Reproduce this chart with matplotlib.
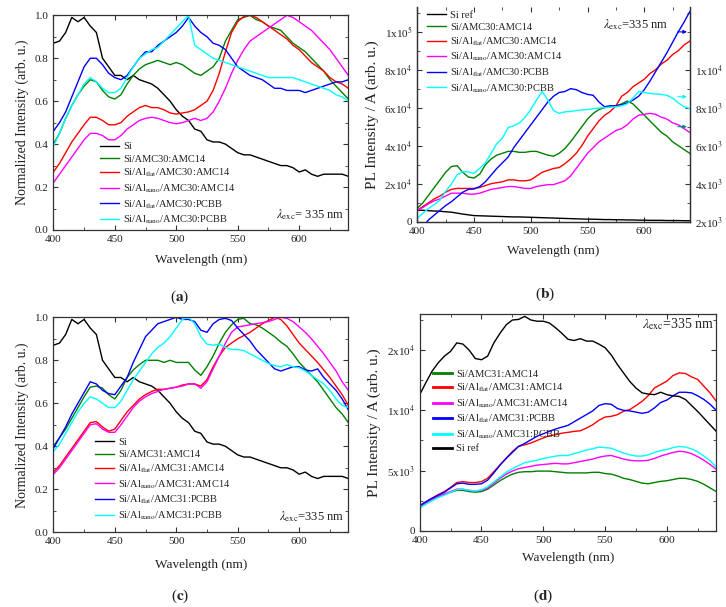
import matplotlib
matplotlib.use("Agg")
import matplotlib.pyplot as plt
from matplotlib.ticker import MultipleLocator

plt.rcParams["font.family"] = "Liberation Serif"
plt.rcParams["mathtext.fontset"] = "stix"
plt.rcParams["axes.linewidth"] = 0.9

# wavelength grid shared by all spectra (nm)
WL = list(range(400, 645, 5))

# (a) normalized, AMC30 blends
SI_NORM = [0.87, 0.88, 0.92, 0.99, 0.97, 0.99, 0.95, 0.92, 0.80, 0.76,
           0.72, 0.72, 0.70, 0.72, 0.70, 0.69, 0.68, 0.66, 0.63, 0.60,
           0.56, 0.53, 0.51, 0.47, 0.46, 0.42, 0.41, 0.41, 0.40, 0.38,
           0.36, 0.35, 0.35, 0.34, 0.33, 0.32, 0.31, 0.30, 0.30, 0.29,
           0.27, 0.28, 0.26, 0.25, 0.26, 0.26, 0.26, 0.26, 0.25]
A_AMC14 = [0.40, 0.45, 0.52, 0.58, 0.63, 0.67, 0.70, 0.69, 0.65, 0.62,
           0.61, 0.63, 0.68, 0.72, 0.75, 0.77, 0.78, 0.79, 0.78, 0.77,
           0.78, 0.77, 0.75, 0.73, 0.72, 0.74, 0.76, 0.80, 0.88, 0.93,
           0.98, 0.99, 1.00, 0.98, 0.97, 0.95, 0.94, 0.93, 0.90, 0.87,
           0.85, 0.83, 0.80, 0.77, 0.74, 0.70, 0.67, 0.64, 0.61]
A_FLAT_AMC14 = [0.27, 0.31, 0.36, 0.41, 0.45, 0.49, 0.525, 0.525, 0.51, 0.49,
                0.49, 0.50, 0.53, 0.55, 0.57, 0.58, 0.57, 0.57, 0.56, 0.545,
                0.54, 0.545, 0.55, 0.56, 0.58, 0.60, 0.65, 0.73, 0.83, 0.92,
                0.97, 0.995, 1.0, 0.99, 0.97, 0.95, 0.93, 0.91, 0.89, 0.86,
                0.84, 0.81, 0.78, 0.76, 0.74, 0.71, 0.69, 0.68, 0.66]
A_NANO_AMC14 = [0.22, 0.26, 0.30, 0.34, 0.38, 0.42, 0.45, 0.45, 0.44, 0.42,
                0.42, 0.44, 0.47, 0.49, 0.51, 0.52, 0.525, 0.52, 0.51, 0.50,
                0.495, 0.50, 0.51, 0.52, 0.51, 0.52, 0.55, 0.60, 0.66, 0.73,
                0.79, 0.84, 0.88, 0.90, 0.92, 0.94, 0.96, 0.98, 1.0, 0.99,
                0.97, 0.95, 0.93, 0.90, 0.87, 0.84, 0.80, 0.76, 0.72]
A_FLAT_PCBB = [0.46, 0.50, 0.55, 0.62, 0.69, 0.76, 0.80, 0.80, 0.77, 0.73,
               0.71, 0.70, 0.72, 0.76, 0.80, 0.83, 0.83, 0.86, 0.88, 0.90,
               0.92, 0.95, 0.99, 0.95, 0.92, 0.90, 0.87, 0.86, 0.84, 0.80,
               0.76, 0.74, 0.72, 0.71, 0.70, 0.68, 0.66, 0.66, 0.65, 0.65,
               0.65, 0.64, 0.65, 0.66, 0.67, 0.68, 0.69, 0.69, 0.70]
A_NANO_PCBB = [0.39, 0.45, 0.52, 0.58, 0.63, 0.68, 0.71, 0.69, 0.66, 0.64,
               0.64, 0.66, 0.71, 0.76, 0.80, 0.82, 0.84, 0.85, 0.88, 0.91,
               0.94, 0.97, 1.0, 0.86, 0.84, 0.82, 0.80, 0.79, 0.78, 0.77,
               0.76, 0.75, 0.74, 0.73, 0.72, 0.71, 0.71, 0.71, 0.71, 0.71,
               0.70, 0.69, 0.68, 0.67, 0.66, 0.65, 0.63, 0.62, 0.60]

# (b) PL intensity, AMC30 blends (PCBB samples on the right axis)
B_SIREF = [6000, 6000, 5800, 5600, 5500, 5200, 5000, 4500, 4000, 3600,
           3200, 3100, 3000, 2900, 2800, 2700, 2600, 2500, 2500, 2400,
           2300, 2200, 2100, 2000, 1900, 1800, 1700, 1600, 1500, 1400,
           1300, 1300, 1200, 1100, 1100, 1000, 1000, 900, 900, 800,
           800, 700, 700, 700, 600, 600, 600, 500, 500]
B_AMC14 = [7000, 10000, 14000, 18000, 22000, 26000, 29000, 29500, 26000, 23500,
           23000, 25000, 30000, 33000, 35000, 36000, 37000, 37000, 36500, 36500,
           37000, 37000, 36000, 35000, 34500, 36000, 38500, 42000, 46000, 50000,
           54000, 57000, 59000, 60000, 60500, 61000, 62000, 63500, 62000, 59000,
           56000, 53000, 50000, 47000, 45000, 42000, 40000, 38000, 36000]
B_FLAT_AMC14 = [6000, 8000, 10000, 12000, 13500, 15500, 17000, 17500, 17500, 17500,
                17500, 18000, 19000, 20000, 20500, 21000, 22000, 22000, 21500, 21500,
                22000, 24000, 26000, 27000, 28000, 28500, 30500, 33000, 36000, 40000,
                45000, 49000, 53000, 56000, 58000, 61000, 66000, 68000, 71000, 73000,
                75000, 78000, 80000, 83000, 85000, 88000, 90000, 93000, 95000]
B_NANO_AMC14 = [6000, 7500, 9500, 11000, 12000, 13500, 15000, 15000, 15000, 14500,
                14500, 15000, 16000, 17000, 17500, 18000, 18500, 18500, 18000, 17500,
                17500, 18500, 19000, 19500, 19500, 20500, 21500, 24000, 28000, 32000,
                36000, 39000, 42000, 44000, 46000, 48000, 49000, 51000, 54000, 56000,
                56500, 57000, 56500, 55000, 54000, 52000, 51000, 49000, 47000]
B_FLAT_PCBB = [1400, 1750, 2100, 2350, 2600, 2850, 3050, 3300, 3550, 3700,
               3720, 3850, 4100, 4450, 4800, 5100, 5400, 5900, 6300, 6700,
               7100, 7500, 7900, 8300, 8600, 8800, 8850, 9000, 8950, 8800,
               8700, 8650, 8300, 8050, 8100, 8100, 8150, 8250, 8400, 8600,
               8950, 9400, 9900, 10400, 10900, 11450, 12000, 12500, 13050]
B_NANO_PCBB = [2180, 2450, 2700, 2900, 3140, 3600, 3980, 4460, 4630, 4620,
               4540, 4810, 5100, 5600, 6100, 6400, 6950, 7050, 7200, 7500,
               7900, 8400, 8850, 8400, 7850, 7700, 7780, 7800, 7850, 7880,
               7900, 7950, 7980, 8000, 8030, 8050, 8100, 8200, 8500, 8850,
               8800, 8750, 8720, 8700, 8650, 8500, 8250, 8050, 7950]

# (c) normalized, AMC31 blends
C_AMC14 = [0.40, 0.44, 0.48, 0.53, 0.58, 0.63, 0.675, 0.68, 0.67, 0.64,
           0.62, 0.66, 0.72, 0.755, 0.78, 0.80, 0.80, 0.80, 0.79, 0.80,
           0.79, 0.79, 0.79, 0.755, 0.73, 0.77, 0.82, 0.88, 0.93, 0.965,
           0.99, 0.995, 0.97, 0.965, 0.95, 0.93, 0.91, 0.885, 0.865, 0.83,
           0.79, 0.76, 0.73, 0.70, 0.66, 0.62, 0.58, 0.55, 0.51]
C_FLAT_AMC14 = [0.28, 0.31, 0.35, 0.39, 0.43, 0.47, 0.51, 0.515, 0.49, 0.47,
                0.48, 0.52, 0.56, 0.59, 0.62, 0.64, 0.655, 0.665, 0.665, 0.67,
                0.675, 0.685, 0.69, 0.69, 0.68, 0.71, 0.77, 0.82, 0.86, 0.88,
                0.90, 0.915, 0.93, 0.95, 0.97, 0.985, 1.0, 0.99, 0.96, 0.92,
                0.88, 0.85, 0.82, 0.79, 0.755, 0.72, 0.68, 0.64, 0.59]
C_NANO_AMC14 = [0.27, 0.30, 0.34, 0.38, 0.42, 0.46, 0.50, 0.505, 0.48, 0.465,
                0.465, 0.50, 0.54, 0.58, 0.61, 0.63, 0.645, 0.655, 0.665, 0.67,
                0.675, 0.68, 0.69, 0.69, 0.67, 0.70, 0.76, 0.82, 0.88, 0.93,
                0.955, 0.96, 0.965, 0.97, 0.975, 0.98, 0.99, 1.0, 0.995, 0.98,
                0.955, 0.93, 0.90, 0.865, 0.83, 0.79, 0.75, 0.70, 0.66]
C_FLAT_PCBB = [0.39, 0.44, 0.49, 0.55, 0.60, 0.65, 0.70, 0.69, 0.66, 0.645,
               0.64, 0.68, 0.72, 0.79, 0.85, 0.91, 0.94, 0.97, 0.98, 0.99,
               1.0, 0.99, 0.99, 0.98, 0.94, 0.93, 0.97, 0.99, 0.995, 0.985,
               0.95, 0.92, 0.89, 0.85, 0.82, 0.79, 0.76, 0.75, 0.76, 0.77,
               0.77, 0.755, 0.75, 0.76, 0.72, 0.69, 0.66, 0.62, 0.57]
C_NANO_PCBB = [0.375, 0.41, 0.46, 0.51, 0.56, 0.60, 0.63, 0.62, 0.60, 0.58,
               0.58, 0.61, 0.66, 0.71, 0.75, 0.79, 0.83, 0.86, 0.88, 0.91,
               0.95, 0.99, 1.0, 0.97, 0.91, 0.875, 0.87, 0.875, 0.86, 0.85,
               0.85, 0.845, 0.83, 0.815, 0.80, 0.785, 0.775, 0.77, 0.78, 0.77,
               0.765, 0.75, 0.73, 0.71, 0.69, 0.66, 0.62, 0.59, 0.58]

# (d) PL intensity, AMC31 blends
D_SIREF = [11300, 12300, 13250, 13950, 14500, 14900, 15600, 15500, 15000, 14300,
           14200, 14500, 15600, 16400, 17100, 17500, 17550, 17800, 17500, 17400,
           17400, 17250, 16850, 16400, 15900, 15800, 15950, 15750, 15750, 15500,
           15200, 14600, 13800, 13100, 12400, 11850, 11450, 11350, 11300, 11500,
           11300, 11200, 11150, 10900, 10400, 9900, 9350, 8800, 8250]
D_AMC14 = [1950, 2250, 2550, 2800, 3000, 3200, 3350, 3350, 3250, 3200,
           3250, 3450, 3800, 4150, 4450, 4700, 4850, 4900, 4900, 4950,
           4950, 4950, 4900, 4850, 4800, 4800, 4800, 4800, 4850, 4850,
           4750, 4700, 4550, 4350, 4250, 4100, 3950, 3900, 4000, 4100,
           4150, 4250, 4350, 4350, 4250, 4100, 3850, 3550, 3250]
D_FLAT_AMC14 = [2080, 2400, 2700, 3000, 3250, 3600, 4000, 4080, 4000, 4000,
                4080, 4360, 4900, 5470, 6030, 6580, 7000, 7140, 7280, 7500,
                7700, 7890, 7970, 8100, 8170, 8250, 8300, 8530, 8800, 9170,
                9440, 9500, 9640, 9920, 10060, 10390, 10750, 11220, 11860, 12140,
                12420, 12890, 13110, 13060, 12780, 12560, 12000, 11440, 10750]
D_NANO_AMC14 = [1950, 2250, 2600, 2850, 3050, 3250, 3450, 3450, 3350, 3300,
                3350, 3550, 3950, 4350, 4700, 4950, 5150, 5250, 5350, 5450,
                5500, 5550, 5600, 5550, 5550, 5650, 5750, 5850, 5950, 6100,
                6200, 6250, 6100, 5950, 5850, 5800, 5800, 5850, 6000, 6200,
                6350, 6500, 6600, 6550, 6400, 6150, 5850, 5500, 5100]
D_FLAT_PCBB = [2080, 2400, 2700, 2950, 3200, 3550, 3900, 3950, 3850, 3850,
               3900, 4200, 4800, 5450, 6000, 6500, 7000, 7250, 7550, 7850,
               8050, 8250, 8450, 8600, 8750, 9050, 9350, 9650, 9950, 10400,
               10550, 10500, 10150, 10000, 9950, 9850, 9750, 9850, 10200, 10650,
               10850, 11200, 11500, 11500, 11450, 11200, 10900, 10500, 10000]
D_NANO_PCBB = [1900, 2200, 2500, 2750, 2950, 3200, 3400, 3450, 3350, 3300,
               3400, 3650, 4050, 4450, 4850, 5150, 5400, 5650, 5750, 5850,
               6000, 6100, 6200, 6250, 6250, 6400, 6550, 6700, 6800, 6950,
               6900, 6850, 6650, 6450, 6300, 6200, 6200, 6300, 6500, 6650,
               6750, 6900, 7000, 6950, 6800, 6550, 6200, 5800, 5300]

B_LEFT_TICKS = [0, 20000, 40000, 60000, 80000, 100000]
B_LEFT_LABELS = ["0", "2x10$^4$", "4x10$^4$", "6x10$^4$", "8x10$^4$", "1x10$^5$"]
B_RIGHT_TICKS = [2000, 4000, 6000, 8000, 10000]
B_RIGHT_LABELS = ["2x10$^3$", "4x10$^3$", "6x10$^3$", "8x10$^3$", "1x10$^4$"]
D_TICKS = [0, 5000, 10000, 15000]
D_LABELS = ["0", "5x10$^3$", "1x10$^4$", "2x10$^4$"]

GREEN, RED, MAG, BLUE, CYAN = "#008000", "#ff0000", "#ff00ff", "#0000ff", "#00ffff"
FLAT = r"Si/Al$_{\rm flat}$/"
NANO = r"Si/Al$_{\rm nano}$/"
TXT = "#222222"


def style(ax, pad, right=True):
    ax.set_xlim(400, 640)
    ax.xaxis.set_major_locator(MultipleLocator(50))
    ax.xaxis.set_minor_locator(MultipleLocator(25))
    ax.tick_params(which="both", direction="in", top=True, right=right,
                   labelsize=8, colors="#333333", labelcolor=TXT)
    ax.tick_params(which="major", length=3.5)
    ax.tick_params(which="minor", length=2)
    for s in ax.spines.values():
        s.set_color("#333333")
    ax.set_xlabel("Wavelength (nm)", fontsize=9.5, color=TXT, labelpad=pad)


def legend(ax, handles, x, y, lw=None):
    leg = ax.legend(handles=handles, loc="upper left", bbox_to_anchor=(x, y),
                    frameon=False, fontsize=7.5, handlelength=1.8,
                    handletextpad=0.4, labelspacing=0.3, borderpad=0,
                    borderaxespad=0)
    for t in leg.get_texts():
        t.set_color(TXT)
    if lw:
        for h in leg.legend_handles:
            h.set_linewidth(lw)


fig = plt.figure(figsize=(7.26, 6.07), dpi=100)
lw = 1.0

# ---- (a)
ax = fig.add_axes([0.0735, 0.6211, 0.4063, 0.3537])
hs = [ax.plot(WL, SI_NORM, color="k", lw=lw, label="Si")[0],
      ax.plot(WL, A_AMC14, color=GREEN, lw=lw, label="Si/AMC30:AMC14")[0],
      ax.plot(WL, A_FLAT_AMC14, color=RED, lw=lw, label=FLAT + "AMC30:AMC14")[0],
      ax.plot(WL, A_NANO_AMC14, color=MAG, lw=lw, label=NANO + "AMC30:AMC14")[0],
      ax.plot(WL, A_FLAT_PCBB, color=BLUE, lw=lw, label=FLAT + "AMC30:PCBB")[0],
      ax.plot(WL, A_NANO_PCBB, color=CYAN, lw=lw, label=NANO + "AMC30:PCBB")[0]]
style(ax, 7)
ax.set_ylim(0, 1.0)
ax.yaxis.set_major_locator(MultipleLocator(0.2))
ax.yaxis.set_minor_locator(MultipleLocator(0.1))
ax.set_ylabel("Normalized Intensity (arb. u.)", fontsize=10, color=TXT)
legend(ax, hs, 0.158, 0.41)
ax.text(0.755, 0.055, r"$\lambda_{\rm exc}$= 335 nm", transform=ax.transAxes,
        fontsize=9, color=TXT)

# ---- (b)
ax = fig.add_axes([0.5748, 0.6348, 0.3752, 0.3537])
ax2 = ax.twinx()
hs = [ax.plot(WL, B_SIREF, color="k", lw=lw, label="Si ref")[0],
      ax.plot(WL, B_AMC14, color=GREEN, lw=lw, label="Si/AMC30:AMC14")[0],
      ax.plot(WL, B_FLAT_AMC14, color=RED, lw=lw, label=FLAT + "AMC30:AMC14")[0],
      ax.plot(WL, B_NANO_AMC14, color=MAG, lw=lw, label=NANO + "AMC30:AMC14")[0],
      ax2.plot(WL, B_FLAT_PCBB, color=BLUE, lw=lw, label=FLAT + "AMC30:PCBB")[0],
      ax2.plot(WL, B_NANO_PCBB, color=CYAN, lw=lw, label=NANO + "AMC30:PCBB")[0]]
style(ax, 6.5, right=False)
ax.spines["top"].set_visible(False)
ax.set_ylim(0, 113000)
ax.set_yticks(B_LEFT_TICKS, B_LEFT_LABELS)
ax.yaxis.set_minor_locator(MultipleLocator(10000))
ax.set_ylabel("PL Intensity / A (arb. u.)", fontsize=11, color=TXT)
ax2.set_ylim(2000, 13300)
ax2.set_yticks(B_RIGHT_TICKS, B_RIGHT_LABELS)
ax2.yaxis.set_minor_locator(MultipleLocator(1000))
ax2.tick_params(which="both", direction="in", labelsize=8, colors="#333333",
                labelcolor=TXT)
ax2.tick_params(which="major", length=3.5)
ax2.tick_params(which="minor", length=2)
ax2.spines["top"].set_visible(False)
for s in ax2.spines.values():
    s.set_color("#333333")
legend(ax, hs, 0.036, 0.984)
ax.text(0.68, 0.9, r"$\lambda_{\rm exc}$=335 nm", transform=ax.transAxes,
        fontsize=9, color=TXT)
for yf, c in [(0.884, BLUE), (0.582, CYAN), (0.4425, "#008b8b")]:
    ax.annotate("", xy=(1.0, yf), xytext=(0.946, yf), xycoords="axes fraction",
                arrowprops=dict(arrowstyle="-|>", color=c, lw=0.8,
                                mutation_scale=5))

# ---- (c)
ax = fig.add_axes([0.0735, 0.1231, 0.4063, 0.3542])
hs = [ax.plot(WL, SI_NORM, color="k", lw=lw, label="Si")[0],
      ax.plot(WL, C_AMC14, color=GREEN, lw=lw, label="Si/AMC31:AMC14")[0],
      ax.plot(WL, C_FLAT_AMC14, color=RED, lw=lw, label=FLAT + "AMC31:AMC14")[0],
      ax.plot(WL, C_NANO_AMC14, color=MAG, lw=lw, label=NANO + "AMC31:AMC14")[0],
      ax.plot(WL, C_FLAT_PCBB, color=BLUE, lw=lw, label=FLAT + "AMC31:PCBB")[0],
      ax.plot(WL, C_NANO_PCBB, color=CYAN, lw=lw, label=NANO + "AMC31:PCBB")[0]]
style(ax, 9)
ax.set_ylim(0, 1.0)
ax.yaxis.set_major_locator(MultipleLocator(0.2))
ax.yaxis.set_minor_locator(MultipleLocator(0.1))
ax.set_ylabel("Normalized Intensity (arb. u.)", fontsize=10, color=TXT)
legend(ax, hs, 0.141, 0.44)
ax.text(0.765, 0.055, r"$\lambda_{\rm exc}$=335 nm", transform=ax.transAxes,
        fontsize=9, color=TXT)

# ---- (d)
ax = fig.add_axes([0.5781, 0.1257, 0.4085, 0.357])
hs = [ax.plot(WL, D_AMC14, color=GREEN, lw=lw, label="Si/AMC31:AMC14")[0],
      ax.plot(WL, D_FLAT_AMC14, color=RED, lw=lw, label=FLAT + "AMC31:AMC14")[0],
      ax.plot(WL, D_NANO_AMC14, color=MAG, lw=lw, label=NANO + "AMC31:AMC14")[0],
      ax.plot(WL, D_FLAT_PCBB, color=BLUE, lw=lw, label=FLAT + "AMC31:PCBB")[0],
      ax.plot(WL, D_NANO_PCBB, color=CYAN, lw=lw, label=NANO + "AMC31:PCBB")[0],
      ax.plot(WL, D_SIREF, color="k", lw=lw, label="Si ref")[0]]
style(ax, 5)
ax.set_ylim(0, 18000)
ax.set_yticks(D_TICKS, D_LABELS)
ax.yaxis.set_minor_locator(MultipleLocator(2500))
ax.set_ylabel("PL Intensity / A (arb. u.)", fontsize=11, color=TXT)
legend(ax, hs, 0.045, 0.745, lw=2)
ax.text(0.75, 0.955, r"$\lambda_{\rm exc}$=335 nm", transform=ax.transAxes,
        fontsize=10, color=TXT, va="center")

for x, y, s in [(180, 297, "a"), (545, 294, "b"), (180, 596, "c"), (543, 596, "d")]:
    fig.text(x / 726, 1 - y / 607, "(" + r"$\mathbf{" + s + "}$" + ")",
             ha="center", va="center", fontsize=11, color=TXT)

fig.savefig("out.png", dpi=100)
